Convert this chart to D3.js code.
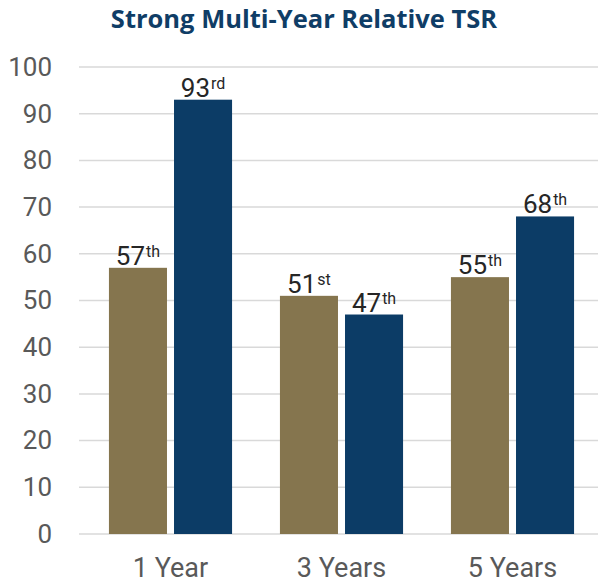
<!DOCTYPE html>
<html lang="en">
  <head>
    <meta charset="UTF-8" />
    <title>Strong Multi-Year Relative TSR</title>
    <style type="text/css">
      body {
        margin: 0;
        background: #fff;
      }
    </style>
    <script src="https://d3js.org/d3.v7.min.js"></script>
  </head>
  <body>
    <div class="d3Chart"></div>
    <script type="text/javascript">
      var categories = ['1 Year', '3 Years', '5 Years']
      var seriesNames = ['A', 'B']
      var seriesA = [57, 51, 55]
      var seriesB = [93, 47, 68]
      var suffixA = ['th', 'st', 'th']
      var suffixB = ['rd', 'th', 'th']
      var yTicks = [0, 10, 20, 30, 40, 50, 60, 70, 80, 90, 100]
      var colors = ['#85754e', '#0c3c66']

      var width = 598
      var height = 583
      var svg = d3
        .select('.d3Chart')
        .append('svg')
        .attr('width', width)
        .attr('height', height)
        .style('font-family', 'Roboto, sans-serif')

      // 标题
      svg
        .append('text')
        .attr('x', 304)
        .attr('y', 28)
        .attr('text-anchor', 'middle')
        .attr('fill', '#0f3d66')
        .style('font-family', '"Open Sans", sans-serif')
        .style('font-weight', 'bold')
        .style('font-size', '25.5px')
        .text('Strong Multi-Year Relative TSR')

      var x0 = d3.scaleBand().domain(categories).range([85, 598]).paddingInner(0.28).paddingOuter(0.14)
      var x1 = d3.scaleBand().domain(seriesNames).range([0, x0.bandwidth()]).paddingInner(0.108)
      var y = d3.scaleLinear().domain([0, 100]).range([534, 67])

      // 网格线
      svg
        .append('g')
        .selectAll('line')
        .data(yTicks)
        .enter()
        .append('line')
        .attr('x1', 79)
        .attr('x2', 598)
        .attr('y1', (d) => y(d))
        .attr('y2', (d) => y(d))
        .attr('stroke', '#d9d9d9')
        .attr('stroke-width', 1.5)

      // y 轴
      var yAxis = svg
        .append('g')
        .attr('transform', 'translate(60,0)')
        .call(d3.axisLeft(y).tickValues(yTicks).tickSize(0).tickPadding(8))
      yAxis.select('.domain').remove()
      yAxis.selectAll('text').attr('fill', '#595959').style('font-size', '26px').style('font-family', 'Roboto, sans-serif')

      // x 轴
      var xAxis = svg
        .append('g')
        .attr('transform', 'translate(0,534)')
        .call(d3.axisBottom(x0).tickSize(0).tickPadding(24))
      xAxis.select('.domain').remove()
      xAxis.selectAll('text').attr('fill', '#595959').style('font-size', '27px').style('font-family', 'Roboto, sans-serif')

      var rows = categories.map((c, i) => ({
        cat: c,
        bars: [
          { key: 'A', value: seriesA[i], suffix: suffixA[i] },
          { key: 'B', value: seriesB[i], suffix: suffixB[i] }
        ]
      }))

      var groups = svg
        .append('g')
        .selectAll('g')
        .data(rows)
        .enter()
        .append('g')
        .attr('transform', (d) => 'translate(' + x0(d.cat) + ',0)')

      groups
        .selectAll('rect')
        .data((d) => d.bars)
        .enter()
        .append('rect')
        .attr('x', (d) => x1(d.key))
        .attr('width', x1.bandwidth())
        .attr('y', (d) => y(d.value))
        .attr('height', (d) => y(0) - y(d.value))
        .attr('fill', (d, i) => colors[i])

      // 数值标签
      var labels = groups
        .selectAll('text.val')
        .data((d) => d.bars)
        .enter()
        .append('text')
        .attr('class', 'val')
        .attr('x', (d) => x1(d.key) + x1.bandwidth() / 2)
        .attr('y', (d) => y(d.value) - 3)
        .attr('text-anchor', 'middle')
        .attr('fill', '#262626')
        .style('font-size', '26px')
      labels.append('tspan').text((d) => d.value)
      labels
        .append('tspan')
        .attr('dx', 1)
        .attr('dy', -8)
        .style('font-size', '16px')
        .text((d) => d.suffix)
    </script>
  </body>
</html>
